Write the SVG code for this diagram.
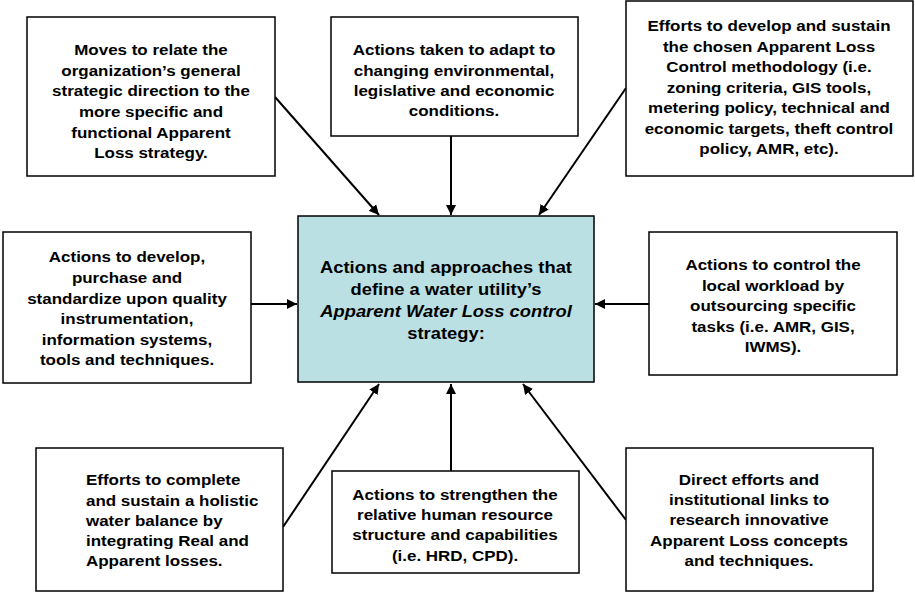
<svg xmlns="http://www.w3.org/2000/svg" width="915" height="592" viewBox="0 0 915 592">
<style>
.box{fill:#fff;stroke:#000;stroke-width:1.5}
.core{fill:#BBE0E3;stroke:#000;stroke-width:1.5}
text{font-family:"Liberation Sans",Arial,sans-serif;font-weight:bold;font-size:14.5px;fill:#000}
.c text{text-anchor:middle}
.big text{font-size:17px}
.con{stroke:#000;stroke-width:2;fill:none;marker-end:url(#ah)}
</style>
<defs>
<marker id="ah" viewBox="0 0 10 10" refX="10" refY="5" markerWidth="5" markerHeight="5" orient="auto" markerUnits="strokeWidth">
<path d="M0,0 L10,5 L0,10 z" fill="#000"/>
</marker>
</defs>
<rect width="915" height="592" fill="#fff"/>
<g id="connectors">
<line class="con" x1="275" y1="97" x2="379" y2="215"/>
<line class="con" x1="451" y1="136" x2="451" y2="215"/>
<line class="con" x1="626" y1="88" x2="539" y2="215"/>
<line class="con" x1="251" y1="304" x2="297" y2="304"/>
<line class="con" x1="649" y1="304" x2="595" y2="304"/>
<line class="con" x1="283" y1="527" x2="379" y2="384"/>
<line class="con" x1="451" y1="471" x2="451" y2="384"/>
<line class="con" x1="626" y1="520" x2="523" y2="384"/>
</g>
<g id="n1">
<rect class="box" x="27" y="17" width="248" height="159"/>
<g class="c" transform="translate(151 0) scale(1.17 1)">
<text x="0" y="55">Moves to relate the</text>
<text x="0" y="76">organization’s general</text>
<text x="0" y="96">strategic direction to the</text>
<text x="0" y="117">more specific and</text>
<text x="0" y="138">functional Apparent</text>
<text x="0" y="158">Loss strategy.</text>
</g>
</g>
<g id="n2">
<rect class="box" x="331" y="17" width="247" height="119"/>
<g class="c" transform="translate(454 0) scale(1.17 1)">
<text x="0" y="55">Actions taken to adapt to</text>
<text x="0" y="76">changing environmental,</text>
<text x="0" y="96">legislative and economic</text>
<text x="0" y="116">conditions.</text>
</g>
</g>
<g id="n3">
<rect class="box" x="626" y="1" width="287" height="175"/>
<g class="c" transform="translate(769 0) scale(1.17 1)">
<text x="0" y="31">Efforts to develop and sustain</text>
<text x="0" y="52">the chosen Apparent Loss</text>
<text x="0" y="72">Control methodology (i.e.</text>
<text x="0" y="93">zoning criteria, GIS tools,</text>
<text x="0" y="113">metering policy, technical and</text>
<text x="0" y="134">economic targets, theft control</text>
<text x="0" y="154">policy, AMR, etc).</text>
</g>
</g>
<g id="n4">
<rect class="box" x="3" y="232" width="248" height="151"/>
<g class="c" transform="translate(127 0) scale(1.17 1)">
<text x="0" y="262">Actions to develop,</text>
<text x="0" y="283">purchase and</text>
<text x="0" y="304">standardize upon quality</text>
<text x="0" y="324">instrumentation,</text>
<text x="0" y="345">information systems,</text>
<text x="0" y="365">tools and techniques.</text>
</g>
</g>
<g id="center">
<rect class="core" x="298" y="216" width="296" height="166"/>
<g class="c big" transform="translate(446 0) scale(1.08 1)">
<text x="0" y="273">Actions and approaches that</text>
<text x="0" y="295">define a water utility’s</text>
<text x="0" y="317" font-style="italic">Apparent Water Loss control</text>
<text x="0" y="339">strategy:</text>
</g>
</g>
<g id="n6">
<rect class="box" x="649" y="232" width="248" height="143"/>
<g class="c" transform="translate(773 0) scale(1.17 1)">
<text x="0" y="270">Actions to control the</text>
<text x="0" y="291">local workload by</text>
<text x="0" y="311">outsourcing specific</text>
<text x="0" y="332">tasks (i.e. AMR, GIS,</text>
<text x="0" y="352">IWMS).</text>
</g>
</g>
<g id="n7">
<rect class="box" x="36" y="448" width="247" height="143"/>
<g transform="translate(86 0) scale(1.17 1)">
<text x="0" y="485">Efforts to complete</text>
<text x="0" y="506">and sustain a holistic</text>
<text x="0" y="526">water balance by</text>
<text x="0" y="546">integrating Real and</text>
<text x="0" y="566">Apparent losses.</text>
</g>
</g>
<g id="n8">
<rect class="box" x="332" y="471" width="247" height="102"/>
<g class="c" transform="translate(455 0) scale(1.17 1)">
<text x="0" y="500">Actions to strengthen the</text>
<text x="0" y="520">relative human resource</text>
<text x="0" y="540">structure and capabilities</text>
<text x="0" y="561">(i.e. HRD, CPD).</text>
</g>
</g>
<g id="n9">
<rect class="box" x="626" y="448" width="247" height="143"/>
<g class="c" transform="translate(749 0) scale(1.17 1)">
<text x="0" y="485">Direct efforts and</text>
<text x="0" y="505">institutional links to</text>
<text x="0" y="525">research innovative</text>
<text x="0" y="546">Apparent Loss concepts</text>
<text x="0" y="566">and techniques.</text>
</g>
</g>
</svg>
